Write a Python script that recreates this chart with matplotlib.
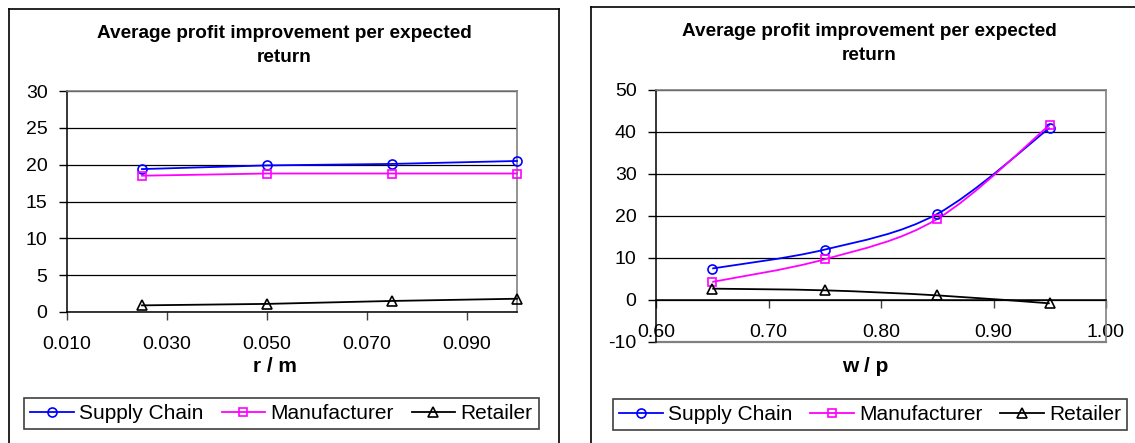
import matplotlib
matplotlib.use("Agg")
import matplotlib.pyplot as plt
import numpy as np
from matplotlib.lines import Line2D
from matplotlib.path import Path
from matplotlib.patches import PathPatch

plt.rcParams['font.family'] = ['Liberation Sans', 'DejaVu Sans']
plt.rcParams['axes.unicode_minus'] = False

# left chart: profit improvement against r / m
rm = [0.025, 0.050, 0.075, 0.100]
rm_supply = [19.4, 19.9, 20.1, 20.5]
rm_manuf = [18.5, 18.8, 18.8, 18.8]
rm_retail = [0.9, 1.1, 1.5, 1.8]

# right chart: profit improvement against w / p
wp = [0.65, 0.75, 0.85, 0.95]
wp_supply = [7.5, 12.0, 20.5, 41.0]
wp_manuf = [4.3, 9.7, 19.3, 41.7]
wp_retail = [2.7, 2.3, 1.1, -0.8]

series_names = ["Supply Chain", "Manufacturer", "Retailer"]
series_colors = ["#0000FF", "#FF00FF", "#000000"]
series_markers = ["o", "s", "^"]
marker_sizes = [6.5, 6, 7.5]

title = "Average profit improvement per expected"
title2 = "return"

W, H = 1135, 443


def fx(px):
    return px / W


def fy(py):
    return 1 - py / H


def smooth_path(xs, ys):
    """bezier curve through the points, like a smoothed spreadsheet line"""
    pts = np.column_stack([xs, ys]).astype(float)
    n = len(pts)
    verts = [pts[0]]
    codes = [Path.MOVETO]
    for i in range(n - 1):
        p0 = pts[max(i - 1, 0)]
        p1 = pts[i]
        p2 = pts[i + 1]
        p3 = pts[min(i + 2, n - 1)]
        verts += [p1 + (p2 - p0) / 6, p2 - (p3 - p1) / 6, p2]
        codes += [Path.CURVE4] * 3
    return Path(verts, codes)


def style_axes(ax):
    ax.grid(axis='y', color='black', lw=0.9)
    ax.set_axisbelow(True)
    for side in ['top', 'right']:
        ax.spines[side].set_color('#808080')
        ax.spines[side].set_linewidth(1.2)
    ax.spines['left'].set_linewidth(1.1)
    ax.spines['bottom'].set_linewidth(1.1)
    ax.spines['bottom'].set_position(('data', 0))
    ax.tick_params(axis='x', direction='out', length=6, width=1, pad=11.5,
                   labelsize=14, color='#404040')
    ax.tick_params(axis='y', direction='out', length=6, width=1, pad=8,
                   labelsize=14)


def add_legend(fig, cx, cy):
    handles = [Line2D([0], [0], color=c, marker=m, ms=s, mfc='none', mec=c,
                      lw=1.3, mew=1.2)
               for c, m, s in zip(series_colors, series_markers, marker_sizes)]
    leg = fig.legend(handles, series_names, loc='center',
                     bbox_to_anchor=(fx(cx), fy(cy)), ncol=3, fontsize=15,
                     fancybox=False, framealpha=1, edgecolor='#404040',
                     handlelength=2.1, handletextpad=0.25, columnspacing=0.85,
                     borderpad=0.3, borderaxespad=0)
    leg.get_frame().set_linewidth(1.2)


fig = plt.figure(figsize=(W / 100, H / 100), dpi=100)

# chart area borders
frame = dict(color='black', lw=1.2, transform=fig.transFigure)
fig.add_artist(Line2D([fx(9), fx(559)], [fy(9), fy(9)], **frame))
fig.add_artist(Line2D([fx(9), fx(9)], [fy(9), fy(443)], **frame))
fig.add_artist(Line2D([fx(559), fx(559)], [fy(9), fy(443)], **frame))
fig.add_artist(Line2D([fx(591), fx(1135)], [fy(7), fy(7)], **frame))
fig.add_artist(Line2D([fx(591), fx(591)], [fy(7), fy(443)], **frame))

# left chart
ax1 = fig.add_axes([fx(67), fy(312), 450 / W, 221 / H])
for ys, c, m, s in zip([rm_supply, rm_manuf, rm_retail], series_colors,
                       series_markers, marker_sizes):
    ax1.plot(rm, ys, color=c, marker=m, ms=s, mfc='none', mec=c, lw=1.3,
             mew=1.2, clip_on=False, zorder=3)
ax1.set_xlim(0.010, 0.100)
ax1.set_ylim(0, 30)
ax1.set_xticks([0.010, 0.030, 0.050, 0.070, 0.090])
ax1.set_xticklabels(["0.010", "0.030", "0.050", "0.070", "0.090"])
ax1.set_yticks(range(0, 31, 5))
style_axes(ax1)

fig.text(fx(284), fy(33), title, ha='center', va='center', fontsize=13.7,
         fontweight='bold')
fig.text(fx(284), fy(57), title2, ha='center', va='center', fontsize=13.7,
         fontweight='bold')
fig.text(fx(275), fy(367), "r / m", ha='center', va='center', fontsize=15,
         fontweight='bold')
add_legend(fig, 281.5, 413.5)

# right chart
ax2 = fig.add_axes([fx(656), fy(342), 450 / W, 252 / H])
for ys, c, m, s in zip([wp_supply, wp_manuf, wp_retail], series_colors,
                       series_markers, marker_sizes):
    ax2.add_patch(PathPatch(smooth_path(wp, ys), facecolor='none',
                            edgecolor=c, lw=1.3, zorder=3))
    ax2.plot(wp, ys, ls='none', marker=m, ms=s, mfc='none', mec=c, mew=1.2,
             zorder=4)
ax2.set_xlim(0.60, 1.00)
ax2.set_ylim(-10, 50)
ax2.set_xticks([0.60, 0.70, 0.80, 0.90, 1.00])
ax2.set_xticklabels(["0.60", "0.70", "0.80", "0.90", "1.00"])
ax2.set_yticks(range(-10, 51, 10))
style_axes(ax2)
# lower edge of the plot area sits below the zero axis
ax2.axhline(-10, color='#808080', lw=1.6, zorder=2.5, clip_on=False)

fig.text(fx(869), fy(31), title, ha='center', va='center', fontsize=13.7,
         fontweight='bold')
fig.text(fx(869), fy(55), title2, ha='center', va='center', fontsize=13.7,
         fontweight='bold')
fig.text(fx(865), fy(367), "w / p", ha='center', va='center', fontsize=15,
         fontweight='bold')
add_legend(fig, 870, 414.5)

fig.savefig("out.png", dpi=100)
